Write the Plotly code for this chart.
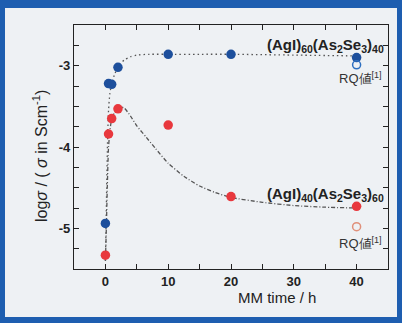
import plotly.graph_objects as go

# Measured data
t_60 = [0, 0.5, 1, 2, 10, 20, 40]
y_60 = [-4.94, -3.22, -3.23, -3.02, -2.86, -2.86, -2.90]
t_40 = [0, 0.5, 1, 2, 10, 20, 40]
y_40 = [-5.33, -3.84, -3.65, -3.53, -3.73, -4.61, -4.73]

# RQ reference values
rq_t = [40]
rq_60 = [-2.99]
rq_40 = [-4.98]

# Guide curves
fit60_t = [0, 0.1, 0.2, 0.35, 0.5, 0.7, 1.0, 1.5, 2.0, 3.0, 4.0, 5.0, 7.0, 10, 15, 20, 30, 40]
fit60_y = [-5.4, -5.0, -4.5, -3.9, -3.55, -3.35, -3.22, -3.1, -3.02, -2.93, -2.89, -2.87, -2.86, -2.86, -2.86, -2.86, -2.87, -2.88]
fit40_t = [0, 0.15, 0.3, 0.5, 0.75, 1.0, 1.5, 2.0, 2.5, 3.0, 4.0, 5.0, 6.5, 8, 10, 12.5, 15, 17.5, 20, 25, 30, 35, 40]
fit40_y = [-5.4, -5.0, -4.5, -4.0, -3.78, -3.66, -3.57, -3.53, -3.51, -3.52, -3.62, -3.74, -3.88, -4.02, -4.2, -4.36, -4.48, -4.56, -4.62, -4.68, -4.72, -4.74, -4.75]

x_ticks = [0, 10, 20, 30, 40]
y_ticks = [-5, -4, -3]
y_ticklabels = ["<b>-5</b>", "<b>-4</b>", "<b>-3</b>"]
x_ticklabels = ["<b>0</b>", "<b>10</b>", "<b>20</b>", "<b>30</b>", "<b>40</b>"]

BLUE = "#1d4f9c"
RED = "#e8383d"
CURVE = "#555555"
FONT = "Liberation Sans, Arial, sans-serif"

fig = go.Figure()
fig.add_trace(go.Scatter(x=fit60_t, y=fit60_y, mode="lines", line=dict(color=CURVE, width=1.3, dash="1.5px,3px", shape="spline", smoothing=0.6), hoverinfo="skip"))
fig.add_trace(go.Scatter(x=fit40_t, y=fit40_y, mode="lines", line=dict(color=CURVE, width=1.3, dash="4px,2px,1px,2px", shape="spline", smoothing=0.6), hoverinfo="skip"))
fig.add_trace(go.Scatter(x=t_60, y=y_60, mode="markers", marker=dict(color=BLUE, size=9.5)))
fig.add_trace(go.Scatter(x=t_40, y=y_40, mode="markers", marker=dict(color=RED, size=9.5)))
fig.add_trace(go.Scatter(x=rq_t, y=rq_60, mode="markers", marker=dict(color="rgba(0,0,0,0)", size=8, line=dict(color="#2d6fc0", width=1.5))))
fig.add_trace(go.Scatter(x=rq_t, y=rq_40, mode="markers", marker=dict(color="rgba(0,0,0,0)", size=8, line=dict(color="#e0907a", width=1.5))))

L, R, T, B = 74, 388, 25, 269
W, H = 402, 323
def px(x):
    return (x - L) / (R - L)
def py(y):
    return (B - y) / (B - T)

shapes = [
    dict(type="rect", xref="paper", yref="paper", x0=px(5), x1=px(397), y0=py(317), y1=py(8),
         fillcolor="#eef1f4", line=dict(width=0), layer="below"),
]

ann = [
    dict(x=px(386), y=py(45), xref="paper", yref="paper", xanchor="right", yanchor="middle",
         text="<b>(AgI)<sub>60</sub>(As<sub>2</sub>Se<sub>3</sub>)<sub>40</sub></b>", showarrow=False,
         font=dict(family=FONT, size=15, color="#222")),
    dict(x=px(384), y=py(78), xref="paper", yref="paper", xanchor="right", yanchor="middle",
         text="RQ値<sup>[1]</sup>", showarrow=False, font=dict(family=FONT, size=13, color="#333")),
    dict(x=px(386), y=py(194), xref="paper", yref="paper", xanchor="right", yanchor="middle",
         text="<b>(AgI)<sub>40</sub>(As<sub>2</sub>Se<sub>3</sub>)<sub>60</sub></b>", showarrow=False,
         font=dict(family=FONT, size=15, color="#222")),
    dict(x=px(384), y=py(243), xref="paper", yref="paper", xanchor="right", yanchor="middle",
         text="RQ値<sup>[1]</sup>", showarrow=False, font=dict(family=FONT, size=13, color="#333")),
    dict(x=px(277), y=py(297), xref="paper", yref="paper", xanchor="center", yanchor="middle",
         text="MM time / h", showarrow=False, font=dict(family=FONT, size=15, color="#222")),
    dict(x=px(40), y=py(156), xref="paper", yref="paper", xanchor="center", yanchor="middle",
         text="log<i>σ</i> / ( <i>σ</i> in Scm<sup>-1</sup>)", textangle=-90, showarrow=False,
         font=dict(family=FONT, size=16, color="#222")),
]

fig.update_layout(
    width=W, height=H,
    margin=dict(l=L, r=W - R, t=T, b=H - B),
    paper_bgcolor="#1e5eb0",
    plot_bgcolor="#fbfbfb",
    showlegend=False,
    shapes=shapes,
    annotations=ann,
    font=dict(family=FONT, size=13, color="#222"),
)
fig.update_xaxes(range=[-5, 45], tickvals=x_ticks, ticktext=x_ticklabels, showline=True, linecolor="#222", linewidth=1.2,
                 mirror="ticks", ticks="inside", ticklen=5, tickcolor="#222", showgrid=False, zeroline=False,
                 tickfont=dict(family=FONT, size=13, color="#222"),
                 minor=dict(dtick=5, tick0=0, ticks="inside", ticklen=5, tickcolor="#222", showgrid=False))
fig.update_yaxes(range=[-5.5, -2.5], tickvals=y_ticks, ticktext=y_ticklabels, showline=True, linecolor="#222",
                 linewidth=1.2, mirror="ticks", ticks="inside", ticklen=5, tickcolor="#222", showgrid=False,
                 zeroline=False, tickfont=dict(family=FONT, size=13, color="#222"),
                 minor=dict(dtick=0.25, tick0=-3, ticks="inside", ticklen=5, tickcolor="#222", showgrid=False))

fig.write_html("out.html")
